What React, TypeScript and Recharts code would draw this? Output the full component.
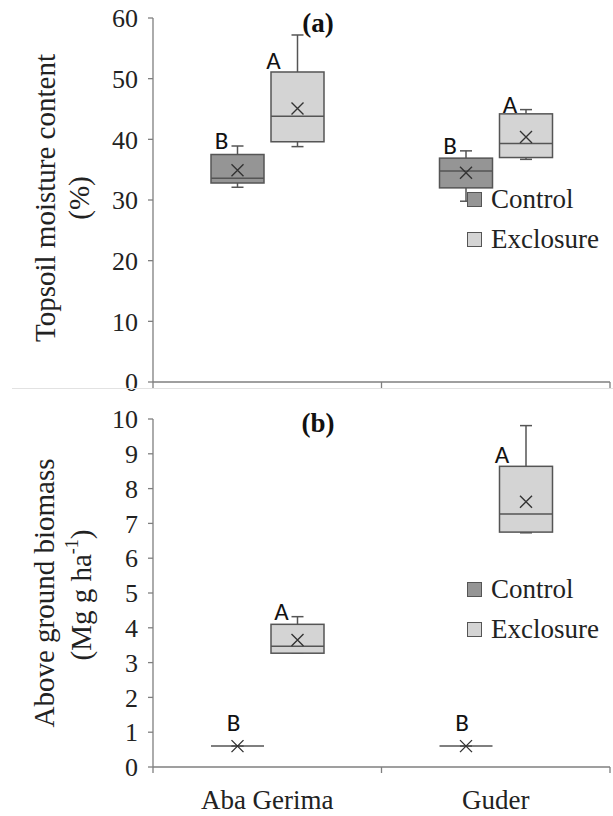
import React from 'react';
import { ComposedChart, Bar, XAxis, YAxis, Customized } from 'recharts';

const SERIF = '"Liberation Serif", "Times New Roman", serif';
const SANS = 'Carlito, Lato, "Open Sans", sans-serif';
const AXIS = '#7f7f7f';
const EDGE = '#555';
const CTRL_FILL = '#959595';
const EXCL_FILL = '#d4d4d4';

const sites = ['Aba Gerima', 'Guder'];
const groups = ['Control', 'Exclosure'];
const frameTicks = [0, 0.5, 1, 1.5, 2];

// (a) topsoil moisture content (%)
const moistureTicks = [0, 10, 20, 30, 40, 50, 60];
const moistCtrlMin = [32.1, 29.8];
const moistCtrlQ1 = [32.8, 32.0];
const moistCtrlMedian = [33.6, 34.8];
const moistCtrlQ3 = [37.5, 36.9];
const moistCtrlMax = [38.9, 38.1];
const moistCtrlMean = [34.9, 34.5];
const moistExclMin = [38.8, 36.7];
const moistExclQ1 = [39.6, 37.0];
const moistExclMedian = [43.8, 39.3];
const moistExclQ3 = [51.1, 44.2];
const moistExclMax = [57.2, 44.9];
const moistExclMean = [45.1, 40.4];

// (b) above ground biomass
const biomassTicks = [0, 1, 2, 3, 4, 5, 6, 7, 8, 9, 10];
const bioCtrlMin = [0.6, 0.6];
const bioCtrlQ1 = [0.6, 0.6];
const bioCtrlMedian = [0.6, 0.6];
const bioCtrlQ3 = [0.6, 0.6];
const bioCtrlMax = [0.6, 0.6];
const bioCtrlMean = [0.6, 0.6];
const bioExclMin = [3.27, 6.73];
const bioExclQ1 = [3.27, 6.75];
const bioExclMedian = [3.47, 7.27];
const bioExclQ3 = [4.1, 8.64];
const bioExclMax = [4.32, 9.81];
const bioExclMean = [3.65, 7.62];

const ctrlLetters = ['B', 'B'];
const exclLetters = ['A', 'A'];

type Stats = {
  min: number[]; q1: number[]; median: number[]; q3: number[]; max: number[]; mean: number[]; letters: string[];
};

const moistCtrl: Stats = { min: moistCtrlMin, q1: moistCtrlQ1, median: moistCtrlMedian, q3: moistCtrlQ3, max: moistCtrlMax, mean: moistCtrlMean, letters: ctrlLetters };
const moistExcl: Stats = { min: moistExclMin, q1: moistExclQ1, median: moistExclMedian, q3: moistExclQ3, max: moistExclMax, mean: moistExclMean, letters: exclLetters };
const bioCtrl: Stats = { min: bioCtrlMin, q1: bioCtrlQ1, median: bioCtrlMedian, q3: bioCtrlQ3, max: bioCtrlMax, mean: bioCtrlMean, letters: ctrlLetters };
const bioExcl: Stats = { min: bioExclMin, q1: bioExclQ1, median: bioExclMedian, q3: bioExclQ3, max: bioExclMax, mean: bioExclMean, letters: exclLetters };

const buildRows = (c: Stats, e: Stats) =>
  sites.map((site, i) => ({ site, idx: i, pos: i + 0.5, ctrl: [c.min[i], c.max[i]], excl: [e.min[i], e.max[i]] }));

function BoxShape(props: any) {
  const { x, y, width, height, payload, stats, fill } = props;
  const s: Stats = stats;
  const i = payload.idx;
  const hi = s.max[i];
  const lo = s.min[i];
  const py = (v: number) => (hi === lo ? y : y + ((hi - v) / (hi - lo)) * height);
  const cx = x + width / 2;
  const top = py(s.q3[i]);
  const bot = py(s.q1[i]);
  const med = py(s.median[i]);
  const mx = py(hi);
  const mn = py(lo);
  const my = py(s.mean[i]);
  const cap = 6;
  const m = 6;

  // letter placement: beside the whisker, or above a flat box
  let lx = cx - 16;
  let ly = mx + 3;
  if (hi === lo) {
    lx = cx - 4;
    ly = mx - 15;
  } else if (top - mx > 20) {
    lx = cx - 24;
    ly = top - 3;
  }

  return (
    <g>
      <line x1={cx} x2={cx} y1={mx} y2={top} stroke={EDGE} strokeWidth={1.5} />
      <line x1={cx} x2={cx} y1={bot} y2={mn} stroke={EDGE} strokeWidth={1.5} />
      <line x1={cx - cap} x2={cx + cap} y1={mx} y2={mx} stroke={EDGE} strokeWidth={1.5} />
      <line x1={cx - cap} x2={cx + cap} y1={mn} y2={mn} stroke={EDGE} strokeWidth={1.5} />
      {bot - top > 0 && (
        <rect x={x} y={top} width={width} height={bot - top} fill={fill} stroke={EDGE} strokeWidth={1.5} />
      )}
      <line x1={x} x2={x + width} y1={med} y2={med} stroke={EDGE} strokeWidth={1.5} />
      <path d={`M${cx - m},${my - m}L${cx + m},${my + m}M${cx - m},${my + m}L${cx + m},${my - m}`} stroke="#333" strokeWidth={1.4} fill="none" />
      <text x={lx} y={ly} textAnchor="middle" fontFamily={SANS} fontSize={25} fill="#111">
        {s.letters[i]}
      </text>
    </g>
  );
}

const FrameTick = (props: any) => {
  const { x, y, payload, showLabel } = props;
  const v = payload.value;
  if (Number.isInteger(v)) {
    return <line x1={x} x2={x} y1={y} y2={y + 6} stroke={AXIS} strokeWidth={1.3} />;
  }
  if (!showLabel) return null;
  return (
    <text x={x} y={y + 42} textAnchor="middle" fontFamily={SERIF} fontSize={27} fill="#222">
      {sites[Math.floor(v)]}
    </text>
  );
};

const LegendBox = ({ left, top }: { left: number; top: number }) => (
  <div style={{ position: 'absolute', left, top, fontFamily: SERIF, fontSize: 27, color: '#222', whiteSpace: 'nowrap' }}>
    {groups.map((g, k) => (
      <div key={g} style={{ display: 'flex', alignItems: 'center', height: 40 }}>
        <span
          style={{
            display: 'inline-block',
            width: 13,
            height: 13,
            background: k === 0 ? CTRL_FILL : EXCL_FILL,
            border: `1.5px solid ${EDGE}`,
            marginRight: 9,
          }}
        />
        {g}
      </div>
    ))}
  </div>
);

function Panel(props: {
  ctrl: Stats; excl: Stats; ticks: number[]; height: number; top: number; frameHeight: number;
  showLabels: boolean; tag: string; tagY: number; titleLines: React.ReactNode[];
}) {
  const { ctrl, excl, ticks, height, top, frameHeight, showLabels, tag, tagY, titleLines } = props;
  const rows = buildRows(ctrl, excl);
  return (
    <ComposedChart width={613} height={height} data={rows} margin={{ top, right: 3, bottom: 0, left: 0 }} barSize={53} barGap={7}>
      <XAxis xAxisId="cat" dataKey="site" type="category" hide height={0} />
      <XAxis
        xAxisId="frame"
        dataKey="pos"
        type="number"
        domain={[0, 2]}
        ticks={frameTicks}
        allowDataOverflow
        interval={0}
        height={frameHeight}
        axisLine={{ stroke: AXIS, strokeWidth: 1.3 }}
        tickLine={false}
        tickSize={0}
        tickMargin={0}
        tick={(p: any) => <FrameTick {...p} showLabel={showLabels} />}
      />
      <YAxis
        width={153}
        domain={[ticks[0], ticks[ticks.length - 1]]}
        ticks={ticks}
        interval={0}
        axisLine={{ stroke: AXIS, strokeWidth: 1.3 }}
        tickLine={{ stroke: AXIS, strokeWidth: 1.3 }}
        tickSize={5}
        tickMargin={10}
        tick={{ fill: '#222', fontSize: 26, fontFamily: SERIF }}
      />
      <Bar xAxisId="cat" dataKey="ctrl" name="Control" fill={CTRL_FILL} isAnimationActive={false}
        shape={(p: any) => <BoxShape {...p} stats={ctrl} fill={CTRL_FILL} />} />
      <Bar xAxisId="cat" dataKey="excl" name="Exclosure" fill={EXCL_FILL} isAnimationActive={false}
        shape={(p: any) => <BoxShape {...p} stats={excl} fill={EXCL_FILL} />} />
      <Customized
        component={() => (
          <g>
            <text x={318} y={tagY} textAnchor="middle" fontFamily={SERIF} fontWeight="bold" fontSize={27} fill="#111">
              {tag}
            </text>
            <g fontFamily={SERIF} fontSize={29} fill="#222">{titleLines}</g>
          </g>
        )}
      />
    </ComposedChart>
  );
}

export default function App() {
  return (
    <div style={{ position: 'absolute', left: 0, top: 0, width: 613, height: 816, background: '#fff', overflow: 'hidden' }}>
      <div style={{ position: 'absolute', left: 0, top: 0 }}>
        <Panel
          ctrl={moistCtrl}
          excl={moistExcl}
          ticks={moistureTicks}
          height={395}
          top={18}
          frameHeight={13}
          showLabels={false}
          tag="(a)"
          tagY={32}
          titleLines={[
            <text key="1" transform="translate(45,198) rotate(-90)" textAnchor="middle" dominantBaseline="central">Topsoil moisture content</text>,
            <text key="2" transform="translate(79,198) rotate(-90)" textAnchor="middle" dominantBaseline="central">(%)</text>,
          ]}
        />
      </div>
      <LegendBox left={467} top={179} />
      <div style={{ position: 'absolute', left: 12, top: 388, width: 601, height: 1, background: '#e2e2e2' }} />
      <div style={{ position: 'absolute', left: 0, top: 395 }}>
        <Panel
          ctrl={bioCtrl}
          excl={bioExcl}
          ticks={biomassTicks}
          height={421}
          top={24}
          frameHeight={49}
          showLabels
          tag="(b)"
          tagY={37}
          titleLines={[
            <text key="1" transform="translate(44,198) rotate(-90)" textAnchor="middle" dominantBaseline="central">Above ground biomass</text>,
            <text key="2" transform="translate(81,200) rotate(-90)" textAnchor="middle" dominantBaseline="central">
              (Mg g ha<tspan dy={-9} fontSize={18}>-1</tspan><tspan dy={9}>)</tspan>
            </text>,
          ]}
        />
      </div>
      <LegendBox left={467} top={569} />
    </div>
  );
}
